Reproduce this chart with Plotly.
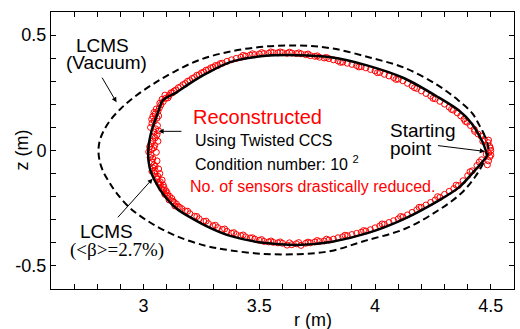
import plotly.graph_objects as go

# ---------------- data ----------------
# LCMS in vacuum (dashed)
r_vacuum = [4.49, 4.475, 4.45, 4.42, 4.36, 4.27, 4.13, 3.98, 3.81, 3.67,
            3.52, 3.37, 3.24, 3.13, 3.04, 2.96, 2.90, 2.855, 2.825, 2.81,
            2.805, 2.81, 2.825, 2.85, 2.88, 2.94, 3.03, 3.14, 3.27, 3.37,
            3.52, 3.67, 3.81, 3.95, 4.13, 4.27, 4.37, 4.43, 4.47, 4.49]
z_vacuum = [0.0, 0.06, 0.11, 0.161, 0.217, 0.283, 0.357, 0.402, 0.443, 0.455,
            0.450, 0.428, 0.392, 0.340, 0.287, 0.232, 0.180, 0.130, 0.080, 0.040,
            0.0, -0.045, -0.090, -0.135, -0.180, -0.248, -0.313, -0.370, -0.413, -0.432,
            -0.448, -0.449, -0.435, -0.393, -0.339, -0.261, -0.187, -0.117, -0.050, 0.0]

# LCMS at <beta> = 2.7 % (solid)
r_lcms = [4.478, 4.461, 4.417, 4.361, 4.274, 4.126, 3.961, 3.809, 3.665, 3.517,
          3.374, 3.274, 3.200, 3.143, 3.083, 3.061, 3.035, 3.020, 3.026, 3.048,
          3.083, 3.143, 3.213, 3.287, 3.374, 3.517, 3.665, 3.809, 3.970, 4.126,
          4.274, 4.361, 4.430, 4.483, 4.478]
z_lcms = [0.0, 0.043, 0.117, 0.174, 0.230, 0.313, 0.370, 0.404, 0.413, 0.409,
          0.383, 0.335, 0.291, 0.252, 0.217, 0.161, 0.087, 0.0, -0.074, -0.130,
          -0.187, -0.252, -0.296, -0.335, -0.370, -0.400, -0.409, -0.396, -0.357, -0.296,
          -0.217, -0.161, -0.087, -0.022, 0.0]

# Reconstructed boundary points (red circles), upper half
r_rec_upper = [4.500, 4.495, 4.488, 4.472, 4.458, 4.444, 4.428, 4.412, 4.398, 4.384,
               4.370, 4.355, 4.338, 4.320, 4.300, 4.280, 4.260, 4.240, 4.220, 4.200,
               4.180, 4.160, 4.140, 4.120, 4.100, 4.080, 4.060, 4.040, 4.020, 4.000,
               3.980, 3.960, 3.940, 3.920, 3.900, 3.880, 3.860, 3.840, 3.820, 3.800,
               3.780, 3.760, 3.740, 3.720, 3.700, 3.680, 3.660, 3.640, 3.620, 3.600,
               3.580, 3.560, 3.540, 3.520, 3.500, 3.480, 3.460, 3.440, 3.420, 3.400,
               3.380, 3.360, 3.340, 3.320, 3.300, 3.280, 3.260, 3.240, 3.220, 3.200,
               3.180, 3.160, 3.140, 3.125, 3.110, 3.095, 3.085, 3.075, 3.068, 3.062,
               3.050, 3.040, 3.058, 3.046, 3.036, 3.060, 3.052, 3.045, 3.058, 3.050,
               3.040, 3.032, 3.026, 3.036, 3.022]
z_rec_upper = [0.000, 0.018, 0.034, 0.048, 0.062, 0.072, 0.092, 0.108, 0.122, 0.136,
               0.150, 0.163, 0.175, 0.188, 0.201, 0.213, 0.224, 0.236, 0.247, 0.258,
               0.269, 0.280, 0.291, 0.302, 0.309, 0.316, 0.323, 0.330, 0.338, 0.345,
               0.351, 0.358, 0.363, 0.368, 0.373, 0.378, 0.383, 0.388, 0.393, 0.398,
               0.401, 0.404, 0.408, 0.411, 0.415, 0.419, 0.420, 0.422, 0.421, 0.424,
               0.423, 0.424, 0.421, 0.420, 0.418, 0.415, 0.413, 0.409, 0.404, 0.399,
               0.393, 0.386, 0.378, 0.368, 0.360, 0.350, 0.340, 0.328, 0.316, 0.303,
               0.290, 0.276, 0.262, 0.250, 0.238, 0.226, 0.212, 0.198, 0.184, 0.170,
               0.158, 0.148, 0.140, 0.128, 0.118, 0.108, 0.094, 0.080, 0.068, 0.055,
               0.042, 0.030, 0.016, 0.006, -0.006]

# Reconstructed boundary points (red circles), lower half
r_rec_lower = [3.032, 3.040, 3.036, 3.045, 3.040, 3.050, 3.048, 3.062, 3.058, 3.072,
               3.072, 3.088, 3.088, 3.102, 3.104, 3.122, 3.126, 3.142, 3.150, 3.165,
               3.180, 3.200, 3.220, 3.240, 3.260, 3.280, 3.300, 3.320, 3.340, 3.360,
               3.380, 3.400, 3.420, 3.440, 3.460, 3.480, 3.500, 3.520, 3.540, 3.560,
               3.580, 3.600, 3.620, 3.640, 3.660, 3.680, 3.700, 3.720, 3.740, 3.760,
               3.780, 3.800, 3.820, 3.840, 3.860, 3.880, 3.900, 3.920, 3.940, 3.960,
               3.980, 4.000, 4.020, 4.040, 4.060, 4.080, 4.100, 4.120, 4.140, 4.160,
               4.180, 4.200, 4.220, 4.240, 4.260, 4.280, 4.300, 4.320, 4.340, 4.360,
               4.380, 4.400, 4.420, 4.440, 4.460, 4.480, 4.485, 4.490, 4.495]
z_rec_lower = [-0.020, -0.035, -0.050, -0.062, -0.075, -0.088, -0.100, -0.112, -0.124, -0.136,
               -0.148, -0.160, -0.172, -0.184, -0.196, -0.208, -0.220, -0.232, -0.243, -0.252,
               -0.262, -0.274, -0.285, -0.296, -0.307, -0.317, -0.326, -0.334, -0.342, -0.350,
               -0.358, -0.364, -0.369, -0.374, -0.379, -0.384, -0.389, -0.394, -0.396, -0.398,
               -0.400, -0.402, -0.410, -0.408, -0.404, -0.411, -0.402, -0.400, -0.396, -0.394,
               -0.392, -0.388, -0.384, -0.378, -0.374, -0.369, -0.364, -0.359, -0.354, -0.349,
               -0.343, -0.335, -0.327, -0.320, -0.312, -0.304, -0.296, -0.288, -0.279, -0.268,
               -0.257, -0.246, -0.236, -0.225, -0.214, -0.203, -0.190, -0.177, -0.165, -0.152,
               -0.131, -0.109, -0.088, -0.065, -0.040, -0.016, -0.062, -0.045, -0.028]

# Further reconstructed points (the scattered band around the boundary)
r_rec_extra = [3.030, 3.065, 3.042, 3.062, 3.048, 3.055, 3.045, 3.028, 3.058, 3.050,
               3.065, 3.036, 3.070, 3.055, 3.080, 3.065, 3.085, 3.078, 3.097, 3.092,
               3.112, 3.110, 3.132, 3.135, 3.155, 3.035, 3.065, 3.045, 3.055, 3.070,
               3.080, 3.092, 3.105, 3.118, 3.132, 3.150, 3.170, 3.190, 3.210, 3.230,
               3.250, 3.270, 3.290, 3.310, 3.330, 3.430, 3.470, 3.510, 3.550, 3.590,
               3.630, 3.670, 3.710, 3.750, 3.790, 3.850, 3.930, 4.010, 4.090, 4.170,
               4.250, 4.330, 4.390, 4.430, 4.465, 4.490, 4.498, 3.430, 3.470, 3.510,
               3.550, 3.590, 3.630, 3.670, 3.710, 3.750, 3.790, 3.870, 3.950, 4.030,
               4.110, 4.190, 4.270, 4.350, 4.410, 4.450, 4.490, 4.500, 3.190, 3.230,
               3.270, 3.310, 3.350, 3.390]
z_rec_extra = [0.100, 0.085, 0.062, 0.040, 0.022, -0.008, 0.012, -0.030, -0.045, -0.068,
               -0.080, -0.090, -0.100, -0.115, -0.128, -0.140, -0.150, -0.165, -0.175, -0.190,
               -0.198, -0.214, -0.224, -0.240, -0.246, 0.135, 0.150, 0.165, 0.180, 0.205,
               0.222, 0.240, 0.228, 0.250, 0.258, 0.272, 0.285, 0.300, 0.312, 0.326,
               0.336, 0.348, 0.358, 0.368, 0.376, 0.412, 0.419, 0.424, 0.427, 0.427,
               0.426, 0.423, 0.418, 0.410, 0.403, 0.382, 0.362, 0.337, 0.308, 0.272,
               0.226, 0.178, 0.126, 0.083, 0.040, 0.045, 0.010, -0.366, -0.378, -0.386,
               -0.392, -0.396, -0.400, -0.399, -0.397, -0.390, -0.384, -0.367, -0.347, -0.318,
               -0.286, -0.246, -0.200, -0.150, -0.092, -0.050, -0.010, -0.020, -0.263, -0.286,
               -0.306, -0.324, -0.340, -0.356]

x_tickvals = [3, 3.5, 4, 4.5]
x_ticktext = ["3", "3.5", "4", "4.5"]
y_tickvals = [-0.5, 0, 0.5]
y_ticktext = ["-0.5", "0", "0.5"]

# ---------------- figure ----------------
SANS = "Liberation Sans, Arial, Helvetica, sans-serif"
SERIF = "Liberation Serif, Times New Roman, serif"

fig = go.Figure()
fig.add_trace(go.Scatter(
    x=r_rec_upper + r_rec_lower + r_rec_extra,
    y=z_rec_upper + z_rec_lower + z_rec_extra, mode="markers",
    marker=dict(symbol="circle-open", size=6, color="#ff0000", line=dict(width=1)),
    hoverinfo="skip"))
fig.add_trace(go.Scatter(
    x=r_lcms, y=z_lcms, mode="lines",
    line=dict(color="black", width=2.5, shape="spline", smoothing=0.8)))
fig.add_trace(go.Scatter(
    x=r_vacuum, y=z_vacuum, mode="lines",
    line=dict(color="black", width=2, dash="7px,4px", shape="spline", smoothing=1.0)))

axis_common = dict(
    ticks="inside", ticklen=5, tickwidth=1, tickcolor="black",
    showline=True, linecolor="black", linewidth=1, mirror="ticks",
    showgrid=False, zeroline=False,
    tickfont=dict(family=SANS, size=18, color="black"),
)
fig.update_xaxes(range=[2.6, 4.6], tickmode="array", tickvals=x_tickvals, ticktext=x_ticktext,
                 minor=dict(dtick=0.1, tick0=0, ticks="inside", ticklen=5, tickcolor="black", showgrid=False),
                 **axis_common)
fig.update_yaxes(range=[-0.6, 0.6], tickmode="array", tickvals=y_tickvals, ticktext=y_ticktext,
                 minor=dict(dtick=0.1, tick0=0, ticks="inside", ticklen=5, tickcolor="black", showgrid=False),
                 **axis_common)

fig.update_layout(
    width=520, height=329,
    margin=dict(l=51, r=6, t=12, b=40),
    paper_bgcolor="white", plot_bgcolor="white",
    showlegend=False,
    font=dict(family=SANS, size=18, color="black"),
)

def text(x, y, s, size, color="black", xanchor="center", family=SANS):
    fig.add_annotation(x=x, y=y, xref="x", yref="y", text=s, showarrow=False,
                       xanchor=xanchor, yanchor="middle",
                       font=dict(family=family, size=size, color=color))

def arrow(x_head, y_head, x_tail, y_tail):
    fig.add_annotation(x=x_head, y=y_head, ax=x_tail, ay=y_tail,
                       xref="x", yref="y", axref="x", ayref="y", text="",
                       showarrow=True, arrowhead=2, arrowsize=1, arrowwidth=1,
                       arrowcolor="black")

# axis titles
fig.add_annotation(x=3.73, y=0, xref="x", yref="paper", yshift=-31, text="r (m)",
                   showarrow=False, xanchor="center", yanchor="middle",
                   font=dict(family=SANS, size=18, color="black"))
fig.add_annotation(x=0, y=0.5, xref="paper", yref="paper", xshift=-30, text="z (m)",
                   textangle=-90, showarrow=False, xanchor="center", yanchor="middle",
                   font=dict(family=SANS, size=18, color="black"))

text(2.822, 0.457, "LCMS", 19)
text(2.839, 0.383, "(Vacuum)", 19)
arrow(2.883, 0.209, 2.817, 0.322)

text(3.204, 0.143, "Reconstructed", 20, color="#ff0000", xanchor="left")
text(3.213, 0.045, "Using Twisted CCS", 16, xanchor="left")
text(3.213, -0.052, "Condition number: 10 <sup>2</sup>", 16, xanchor="left")
text(3.191, -0.157, "No. of sensors drastically reduced.", 16, color="#ff0000", xanchor="left")
arrow(3.065, 0.083, 3.170, 0.083)

text(4.057, 0.087, "Starting", 19, xanchor="left")
text(4.057, 0.009, "point", 19, xanchor="left")
arrow(4.474, -0.004, 4.265, 0.022)

text(2.841, -0.352, "LCMS", 19)
text(2.887, -0.430, "(&lt;β&gt;=2.7%)", 19, family=SERIF)
arrow(3.039, -0.122, 2.883, -0.296)

fig.write_html("out.html")
